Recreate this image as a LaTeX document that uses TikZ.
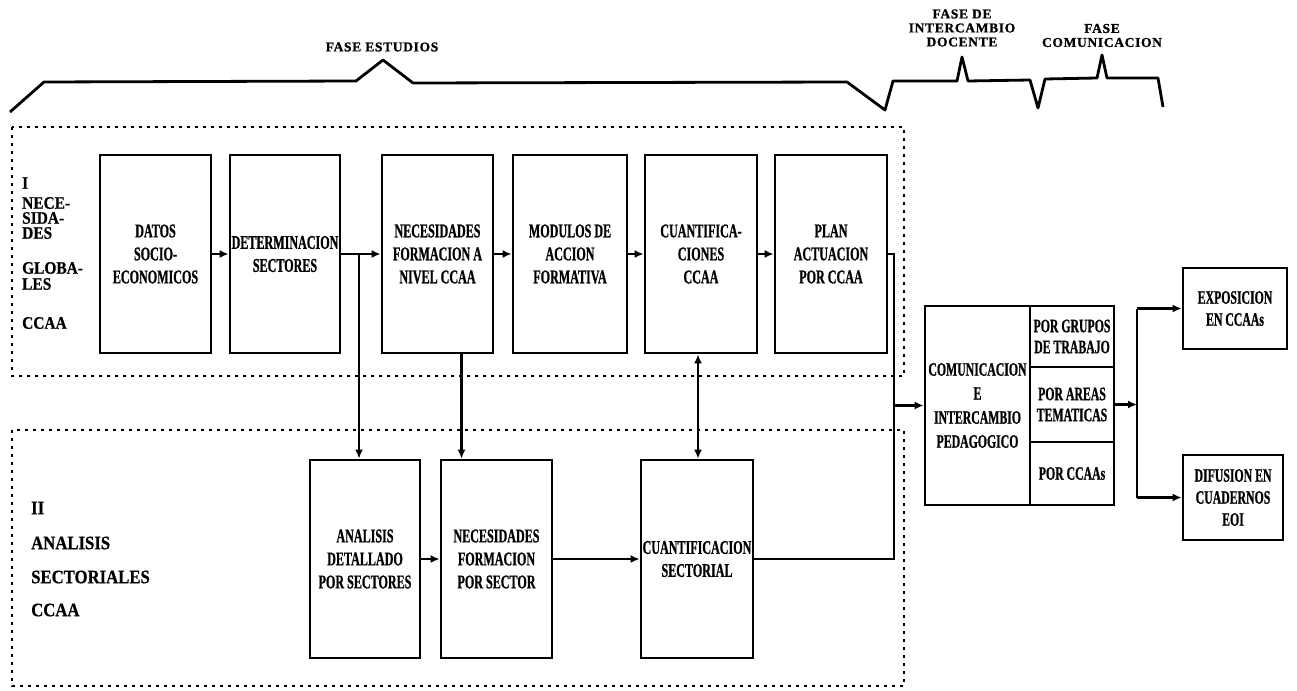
\documentclass[tikz,border=0pt]{standalone}
\usepackage{fontspec}
\setmainfont{Liberation Serif}
\newfontfamily\boxfont{Liberation Serif}[FakeStretch=0.62,BoldFeatures={FakeBold=0.8}]
\newfontfamily\tagfont{Liberation Serif}[FakeStretch=0.88,BoldFeatures={FakeBold=0.6}]
\newfontfamily\phasefont{Liberation Serif}[LetterSpace=5,BoldFeatures={FakeBold=1}]
\usetikzlibrary{arrows.meta}

\begin{document}
\begin{tikzpicture}[x=1pt,y=-1pt,
    stage/.style={draw,line width=2.8pt,inner sep=0pt,align=center,
      minimum width=111pt,minimum height=198pt,
      font=\boxfont\bfseries\fontsize{19.5}{23}\selectfont},
    cell/.style={stage,minimum height=10pt,
      font=\boxfont\bfseries\fontsize{19}{21}\selectfont},
    zone/.style={line width=2.8pt,dash pattern=on 3pt off 5pt},
    link/.style={line width=2.8pt},
    flow/.style={link,-{Latex[length=9pt,width=8pt]}},
    tag/.style={anchor=west,inner sep=0pt,font=\tagfont\bfseries\fontsize{17.5}{17}\selectfont},
    phase/.style={align=center,inner sep=0pt,
      font=\phasefont\bfseries\fontsize{13.5}{14}\selectfont}]
  \useasboundingbox (0,0) rectangle (1297,690);

  % Phase bracket
  \draw[link,line join=round] (10,112) -- (44,82) -- (356,81) -- (383,60) -- (413,83)
    -- (847,82) -- (885,110) -- (893,81) -- (957,81) -- (962,57) -- (968,81)
    -- (1030,80) -- (1038,108) -- (1045,79) -- (1097,78) -- (1102,55) -- (1107,78)
    -- (1158,78) -- (1163,107);

  % Phase labels
  \node[phase] (fest) at (382,47) {FASE ESTUDIOS};
  \node[phase] (finter) at (962,28) {FASE DE\\INTERCAMBIO\\DOCENTE};
  \node[phase] (fcom) at (1102,35.5) {FASE\\COMUNICACION};

  % Dotted zones
  \draw[zone] (12,127) rectangle (904,376);
  \draw[zone] (12,430) rectangle (904,686);

  % Zone labels
  \node[tag] (tI) at (22,183) {I};
  \node[tag] (tnece) at (22,203) {NECE-};
  \node[tag] (tsida) at (22,218) {SIDA-};
  \node[tag] (tdes) at (22,233) {DES};
  \node[tag] (tglob) at (22,268) {GLOBA-};
  \node[tag] (tles) at (22,284) {LES};
  \node[tag] (tccI) at (22,323) {CCAA};
  \node[tag,font=\tagfont\bfseries\fontsize{19}{19}\selectfont] (tII) at (31,508) {II};
  \node[tag,font=\tagfont\bfseries\fontsize{19}{19}\selectfont] (tanal) at (31,543) {ANALISIS};
  \node[tag,font=\tagfont\bfseries\fontsize{19}{19}\selectfont] (tsect) at (31,577) {SECTORIALES};
  \node[tag,font=\tagfont\bfseries\fontsize{19}{19}\selectfont] (tccII) at (31,610) {CCAA};

  % Row I
  \node[stage] (datos) at (155.5,254) {DATOS\\SOCIO-\\ECONOMICOS};
  \node[stage,minimum width=110pt] (determ) at (285,254) {DETERMINACION\\SECTORES};
  \node[stage] (necca) at (437.5,254) {NECESIDADES\\FORMACION A\\NIVEL CCAA};
  \node[stage,minimum width=114pt] (modulos) at (570,254) {MODULOS DE\\ACCION\\FORMATIVA};
  \node[stage,minimum width=112pt] (cuantca) at (701,254) {CUANTIFICA-\\CIONES\\CCAA};
  \node[stage,minimum width=112pt] (plan) at (831,254) {PLAN\\ACTUACION\\POR CCAA};

  % Row II
  \node[stage,minimum width=110pt] (analisis) at (365,559) {ANALISIS\\DETALLADO\\POR SECTORES};
  \node[stage] (necsec) at (496.5,559) {NECESIDADES\\FORMACION\\POR SECTOR};
  \node[stage,minimum width=112pt] (cuantsec) at (697,559) {CUANTIFICACION\\SECTORIAL};

  % Communication block
  \node[cell,minimum width=105pt,minimum height=199pt,
    font=\boxfont\bfseries\fontsize{19}{24}\selectfont] (comm) at (977.5,405.5)
    {COMUNICACION\\E\\INTERCAMBIO\\PEDAGOGICO};
  \node[cell,minimum width=84pt,minimum height=61pt] (grupos) at (1072,336.5) {POR GRUPOS\\DE TRABAJO};
  \node[cell,minimum width=84pt,minimum height=75pt] (areas) at (1072,404.5) {POR AREAS\\TEMATICAS};
  \node[cell,minimum width=84pt,minimum height=63pt] (porcc) at (1072,473.5) {POR CCAAs};
  \node[cell,minimum width=104pt,minimum height=81pt,
    font=\boxfont\bfseries\fontsize{19}{22}\selectfont] (expo) at (1235,308.5) {EXPOSICION\\EN CCAAs};
  \node[cell,minimum width=100pt,minimum height=85pt,
    font=\boxfont\bfseries\fontsize{19}{22}\selectfont] (difus) at (1233,497.5) {DIFUSION EN\\CUADERNOS\\EOI};

  % Row I arrows
  \draw[flow] (datos) -- (determ);
  \draw[flow] (determ) -- (necca);
  \draw[flow] (necca) -- (modulos);
  \draw[flow] (modulos) -- (cuantca);
  \draw[flow] (cuantca) -- (plan);

  % Down to row II
  \path (determ.east) -- (necca.west) coordinate[pos=0.45] (split);
  \draw[flow] (split) -- (split |- analisis.north);
  \draw[flow] ([xshift=24pt]necca.south) -- ([xshift=24pt]necca.south |- necsec.north);
  \draw[flow,{Latex[length=9pt,width=8pt]}-{Latex[length=9pt,width=8pt]}]
    ([xshift=-3pt]cuantca.south) -- ([xshift=-3pt]cuantca.south |- cuantsec.north);

  % Row II arrows
  \draw[flow] (analisis) -- (necsec);
  \draw[flow] (necsec) -- (cuantsec);

  % Into communication
  \coordinate (merge) at (894,405.5);
  \draw[link] (plan.east) -- (plan.east -| merge) -- (cuantsec.east -| merge) -- (cuantsec.east);
  \draw[flow] (merge) -- (comm);

  % Out to diffusion
  \coordinate (fork) at (1137,404.5);
  \draw[flow] (areas.east) -- (fork);
  \draw[link] (fork |- expo.west) -- (fork |- difus.west);
  \draw[flow] (fork |- expo.west) -- (expo.west);
  \draw[flow] (fork |- difus.west) -- (difus.west);
\end{tikzpicture}
\end{document}
